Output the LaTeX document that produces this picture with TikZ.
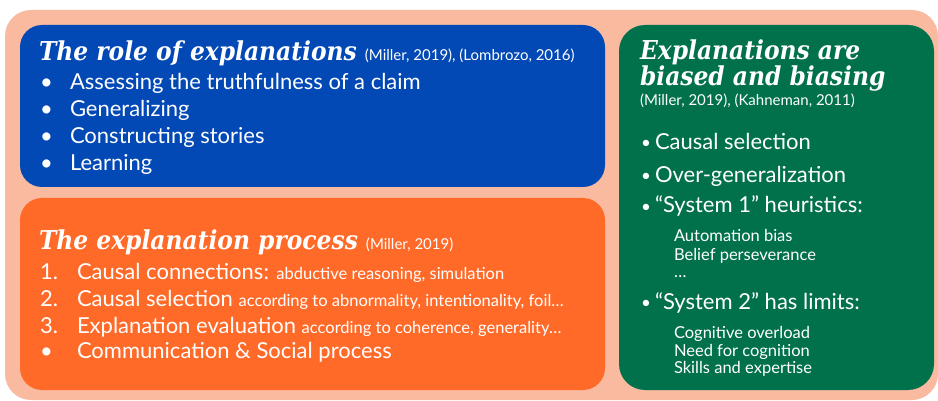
\documentclass[tikz,border=0pt]{standalone}
\usepackage{fontspec}
\setmainfont{Lato}
\newfontfamily\titlefont{DejaVu Serif Condensed}
\definecolor{peach}{HTML}{F9BAA0}
\definecolor{boxblue}{HTML}{0349B6}
\definecolor{boxorange}{HTML}{FF6A28}
\definecolor{boxgreen}{HTML}{00714B}
\begin{document}
\begin{tikzpicture}[x=1pt,y=-1pt,
  panel/.style={draw=none,inner sep=0pt,outer sep=0pt,anchor=north west,rounded corners=22pt},
  txt/.style={text=white,inner sep=0pt,outer sep=0pt,anchor=base west,font=\fontsize{22}{26}\selectfont},
  gdot/.style={text=white,inner sep=0pt,outer sep=0pt,anchor=base west,font=\fontsize{17}{20}\selectfont},
  ttl/.style={text=white,inner sep=0pt,outer sep=0pt,anchor=base west,font=\titlefont\bfseries\itshape\fontsize{26}{30}\selectfont},
  cite/.style={text=white,inner sep=0pt,outer sep=0pt,anchor=base west,font=\fontsize{15}{18}\selectfont},
  sub/.style={text=white,inner sep=0pt,outer sep=0pt,anchor=base west,font=\fontsize{16.5}{20}\selectfont}]
\useasboundingbox (0,0) rectangle (938,401);
\node[panel,fill=peach,minimum width=933pt,minimum height=390pt,rounded corners=26pt] (bg) at (5,10) {};
\node[panel,fill=boxblue,minimum width=585pt,minimum height=162pt] (blue) at (20,25) {};
\node[panel,fill=boxorange,minimum width=585pt,minimum height=192pt] (orange) at (20,198) {};
\node[panel,fill=boxgreen,minimum width=315pt,minimum height=365pt,rounded corners=26pt] (green) at (619,25) {};
% blue box
\node[ttl] (t1) at (39,61) {The role of explanations};
\node[cite] (c1) at ([xshift=8pt]t1.base east) {(Miller, 2019), (Lombrozo, 2016)};
\node[txt] (b1d) at (40,90) {•};
\node[txt] (b1) at (70,90) {Assessing the truthfulness of a claim};
\node[txt] (b2d) at (40,117) {•};
\node[txt] (b2) at (70,117) {Generalizing};
\node[txt] (b3d) at (40,144) {•};
\node[txt] (b3) at (70,144) {Constructing stories};
\node[txt] (b4d) at (40,171) {•};
\node[txt] (b4) at (70,171) {Learning};
% orange box
\node[ttl] (t2) at (39,250) {The explanation process};
\node[cite] (c2) at ([xshift=8pt]t2.base east) {(Miller, 2019)};
\node[txt] (o1d) at (40,279) {1.};
\node[txt] (o1) at (77,279) {Causal connections: {\fontsize{16.5}{20}\selectfont abductive reasoning, simulation}};
\node[txt] (o2d) at (40,306) {2.};
\node[txt] (o2) at (77,306) {Causal selection {\fontsize{16.5}{20}\selectfont according to abnormality, intentionality, foil…}};
\node[txt] (o3d) at (40,333) {3.};
\node[txt] (o3) at (77,333) {Explanation evaluation {\fontsize{16.5}{20}\selectfont according to coherence, generality…}};
\node[txt] (o4d) at (40,358) {•};
\node[txt] (o4) at (77,358) {Communication \& Social process};
% green box
\node[ttl] (t3a) at (640,60) {Explanations are};
\node[ttl] (t3b) at (640,86) {biased and biasing};
\node[cite] (c3) at (640,106) {(Miller, 2019), (Kahneman, 2011)};
\node[gdot] (g1d) at (641,149) {•};
\node[txt] (g1) at (655,150) {Causal selection};
\node[gdot] (g2d) at (641,182) {•};
\node[txt] (g2) at (655,183) {Over-generalization};
\node[gdot] (g3d) at (641,212) {•};
\node[txt] (g3) at (655,213) {“System 1” heuristics:};
\node[sub] (g3a) at (674,242) {Automation bias};
\node[sub] (g3b) at (674,260) {Belief perseverance};
\node[sub] (g3c) at (674,277) {…};
\node[gdot] (g4d) at (641,308) {•};
\node[txt] (g4) at (655,309) {“System 2” has limits:};
\node[sub] (g4a) at (674,338) {Cognitive overload};
\node[sub] (g4b) at (674,356) {Need for cognition};
\node[sub] (g4c) at (674,373) {Skills and expertise};
\end{tikzpicture}
\end{document}
